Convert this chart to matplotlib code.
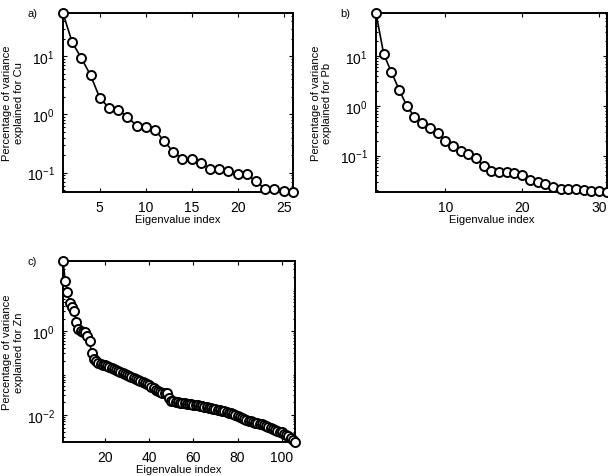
import numpy as np
import matplotlib
matplotlib.use('Agg')
import matplotlib.pyplot as plt
from matplotlib.ticker import LogLocator, NullFormatter, FixedLocator

plt.rcParams['font.family'] = ['Liberation Sans', 'DejaVu Sans']
plt.rcParams['mathtext.default'] = 'regular'
plt.rcParams['axes.unicode_minus'] = False

# percentage of variance explained
cu_var = [55.3, 17.4, 9.3, 4.72, 1.93, 1.30, 1.19, 0.92, 0.64, 0.605,
          0.54, 0.352, 0.225, 0.173, 0.175, 0.147, 0.114, 0.116, 0.105, 0.093,
          0.093, 0.071, 0.052, 0.052, 0.048, 0.0465]

pb_var = [73.6, 11.1, 4.8, 2.12, 1.01, 0.60, 0.449, 0.352, 0.279, 0.196,
          0.158, 0.124, 0.106, 0.088, 0.062, 0.050, 0.0457, 0.0478, 0.0437, 0.041,
          0.0316, 0.0288, 0.0267, 0.0236, 0.0215, 0.0209, 0.021, 0.0200, 0.0193, 0.0192,
          0.0185]

zn_var = [47.9, 16.3, 8.9, 4.7, 3.7, 3.1, 1.65, 1.15, 1.04, 0.98,
          0.95, 0.76, 0.57, 0.30, 0.22, 0.19, 0.175, 0.168, 0.160, 0.157,
          0.150, 0.140, 0.136, 0.128, 0.118, 0.112, 0.106, 0.101, 0.094, 0.090,
          0.085, 0.079, 0.076, 0.072, 0.069, 0.066, 0.062, 0.058, 0.055, 0.052,
          0.047, 0.043, 0.039, 0.037, 0.035, 0.034, 0.034, 0.033, 0.026, 0.022,
          0.021, 0.0205, 0.020, 0.0198, 0.0195, 0.019, 0.0186, 0.0183, 0.018, 0.0177,
          0.0172, 0.0169, 0.0166, 0.0162, 0.0157, 0.0153, 0.0149, 0.0145, 0.0141, 0.0137,
          0.0134, 0.013, 0.0126, 0.0122, 0.0118, 0.0114, 0.011, 0.0105, 0.0100, 0.0096,
          0.0091, 0.0087, 0.0082, 0.0077, 0.0073, 0.0070, 0.0068, 0.0066, 0.0064, 0.0062,
          0.0060, 0.0057, 0.0054, 0.0051, 0.0048, 0.0046, 0.0044, 0.0042, 0.0040, 0.0039,
          0.0036, 0.0033, 0.0031, 0.0028, 0.0025, 0.0023]

cu_xticks = [5, 10, 15, 20, 25]
pb_xticks = [10, 20, 30]
zn_xticks = [20, 40, 60, 80, 100]


def scree(ax, vals, xticks, yticks, element, letter, label_x):
    idx = np.arange(1, len(vals) + 1)
    ax.semilogy(idx, vals, '-o', color='black', lw=1.2, ms=6.5, mew=1.4,
                mfc='white', mec='black', clip_on=False, zorder=3)
    ax.set_xlim(1, len(vals))
    ax.set_ylim(min(vals), max(vals))
    ax.set_xticks(xticks)
    ax.yaxis.set_major_locator(FixedLocator(yticks))
    ax.yaxis.set_minor_locator(LogLocator(base=10, subs=np.arange(2, 10), numticks=50))
    ax.yaxis.set_minor_formatter(NullFormatter())
    for s in ax.spines.values():
        s.set_linewidth(1.4)
    ax.tick_params(which='both', direction='in', top=True, right=True, width=0.8)
    ax.tick_params(which='major', length=3, labelsize=10)
    ax.tick_params(axis='x', which='major', pad=6)
    ax.tick_params(axis='y', which='major', pad=6)
    ax.tick_params(which='minor', length=1.5)
    ax.set_xlabel('Eigenvalue index', fontsize=8, labelpad=0)
    ax.set_ylabel('Percentage of variance\nexplained for ' + element, fontsize=8)
    ax.yaxis.set_label_coords(label_x, 0.5)
    ax.text(-0.155, 1.0, letter, transform=ax.transAxes, fontsize=8,
            ha='left', va='center')


fig = plt.figure(figsize=(6.08, 4.77), dpi=100)

ax1 = fig.add_axes([0.1036, 0.5954, 0.378, 0.375])
scree(ax1, cu_var, cu_xticks, [0.1, 1, 10], 'Cu', 'a)', -0.17)

ax2 = fig.add_axes([0.6184, 0.5954, 0.3795, 0.375])
scree(ax2, pb_var, pb_xticks, [0.1, 1, 10], 'Pb', 'b)', -0.19)

ax3 = fig.add_axes([0.1036, 0.0719, 0.3816, 0.379])
scree(ax3, zn_var, zn_xticks, [0.01, 1], 'Zn', 'c)', -0.17)

plt.savefig('out.png', dpi=100)
